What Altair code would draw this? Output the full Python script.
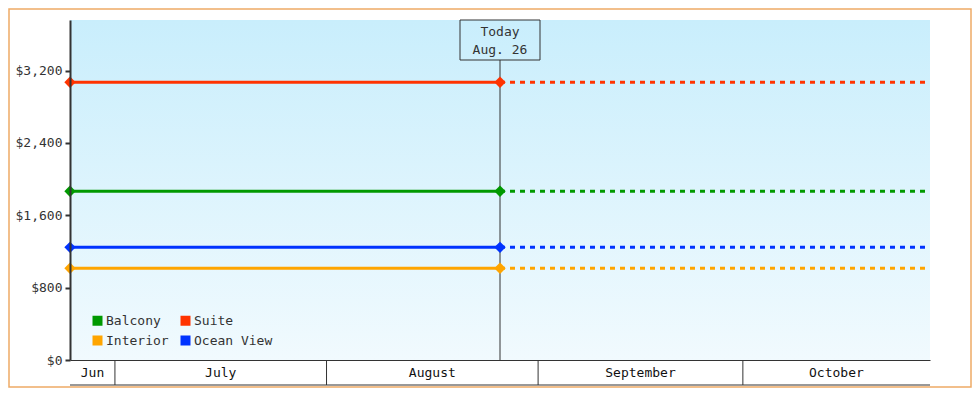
import altair as alt
import pandas as pd

# ---------------- data ----------------
categories = ["Balcony", "Interior", "Suite", "Ocean View"]
colors = ["#009900", "#ffa500", "#ff3300", "#0033ff"]
prices = [1866, 1014, 3071, 1246]

start_date = "2024-06-24T10:00:00"
today_date = "2024-08-26T10:00:00"
end_date = "2024-10-28T10:00:00"
today_label = "Today\nAug. 26"

month_names = ["Jun", "July", "August", "September", "October"]
month_starts = ["2024-06-01", "2024-07-01", "2024-08-01", "2024-09-01", "2024-10-01"]
month_ends = ["2024-07-01", "2024-08-01", "2024-09-01", "2024-10-01", "2024-11-01"]

y_ticks = [0, 800, 1600, 2400, 3200]
y_max = 3760

# ---------------- tables ----------------
solid = pd.DataFrame(
    [{"cat": c, "date": d, "price": p} for c, p in zip(categories, prices) for d in (start_date, today_date)]
)
dashed = pd.DataFrame(
    [{"cat": c, "date": d, "price": p} for c, p in zip(categories, prices) for d in (today_date, end_date)]
)
pts = solid.copy()

s0, e0 = pd.Timestamp(start_date), pd.Timestamp(end_date)
mrows = []
for n, a, b in zip(month_names, month_starts, month_ends):
    a, b = max(pd.Timestamp(a), s0), min(pd.Timestamp(b), e0)
    mrows.append({"name": n, "start": a.isoformat(), "mid": (a + (b - a) / 2).isoformat()})
months = pd.DataFrame(mrows)
seps = pd.DataFrame({"date": month_starts[1:]})
today_df = pd.DataFrame({"date": [today_date], "label": [today_label]})
span_df = pd.DataFrame({"a": [start_date], "b": [end_date]})

W, H = 860, 340
FONT = "DejaVu Sans Mono"
INK = "#333333"

def dt(s):
    t = pd.Timestamp(s)
    return alt.DateTime(year=t.year, month=t.month, date=t.day, hours=t.hour)

xscale = alt.Scale(domain=[dt(start_date), dt(end_date)])
yscale = alt.Scale(domain=[0, y_max], nice=False)
cscale = alt.Scale(domain=categories, range=colors)

X = alt.X("date:T", scale=xscale,
          axis=alt.Axis(labels=False, ticks=False, grid=False, title=None,
                        domainColor=INK, domainWidth=1, zindex=1))
Y = alt.Y("price:Q", scale=yscale,
          axis=alt.Axis(values=y_ticks, format="$,d", title=None, grid=False,
                        domainColor=INK, domainWidth=2, tickColor=INK, tickWidth=2,
                        tickSize=5, labelFont=FONT, labelFontSize=13, labelColor=INK,
                        labelPadding=3, zindex=1))

legend = alt.Legend(orient="none", legendX=21, legendY=294, columns=2, title=None,
                    symbolType="square", symbolSize=100, symbolStrokeWidth=0,
                    symbolOpacity=1, symbolDash=[1, 0],
                    labelFont=FONT, labelFontSize=13, labelColor=INK, labelOffset=2,
                    rowPadding=6, columnPadding=10, padding=0)
C = alt.Color("cat:N", scale=cscale, legend=legend)

bg = alt.Chart(pd.DataFrame({"a": [0]})).mark_rect(
    fill=alt.Gradient(gradient="linear",
                      stops=[alt.GradientStop(color="#c9eefc", offset=0),
                             alt.GradientStop(color="#f1fafe", offset=1)],
                      x1=0, x2=0, y1=0, y2=1)
).encode(x=alt.value(0), x2=alt.value(W), y=alt.value(0), y2=alt.value(H))

border = alt.Chart(pd.DataFrame({"a": [0]})).mark_rect(
    fillOpacity=0, stroke="#eeaa66", strokeWidth=1.5
).encode(x=alt.value(-61), x2=alt.value(W + 41), y=alt.value(-11), y2=alt.value(H + 27))

today_rule = alt.Chart(today_df).mark_rule(color=INK, strokeWidth=1).encode(
    x="date:T", y=alt.value(40), y2=alt.value(H))
today_box = alt.Chart(today_df).mark_rect(width=80, fillOpacity=0, stroke=INK, strokeWidth=1).encode(
    x="date:T", y=alt.value(0), y2=alt.value(40))
today_text = alt.Chart(today_df).mark_text(
    lineBreak="\n", lineHeight=18, font=FONT, fontSize=13, color=INK, baseline="middle", align="center"
).encode(x="date:T", y=alt.value(12), text="label:N")

solid_l = alt.Chart(solid).mark_line(strokeWidth=3).encode(
    x=X, y=Y, color=C, detail="cat:N")
dashed_l = alt.Chart(dashed).mark_line(strokeWidth=3, strokeDash=[5, 5]).encode(
    x="date:T", y="price:Q", color=C, detail="cat:N")
points = alt.Chart(pts).mark_point(shape="diamond", filled=True, size=130, opacity=1).encode(
    x="date:T", y="price:Q", color=C)

sep_rules = alt.Chart(seps).mark_rule(color=INK, strokeWidth=1).encode(
    x="date:T", y=alt.value(H), y2=alt.value(H + 25))
bottom_rule = alt.Chart(span_df).mark_rule(color=INK, strokeWidth=1).encode(
    x="a:T", x2="b:T", y=alt.value(H + 25))
month_text = alt.Chart(months).mark_text(
    font=FONT, fontSize=13, color="#111111", baseline="middle", align="center"
).encode(x="mid:T", y=alt.value(H + 13), text="name:N")

chart = alt.layer(
    bg, border, today_rule, today_box, today_text, solid_l, dashed_l, points,
    sep_rules, bottom_rule, month_text
).properties(
    width=W, height=H,
    autosize=alt.AutoSizeParams(type="none"),
    padding={"left": 62, "top": 12, "right": 42, "bottom": 28},
    background="white",
).configure_view(stroke=None)

chart.save("out.html", embed_options={"renderer": "svg", "actions": False})
